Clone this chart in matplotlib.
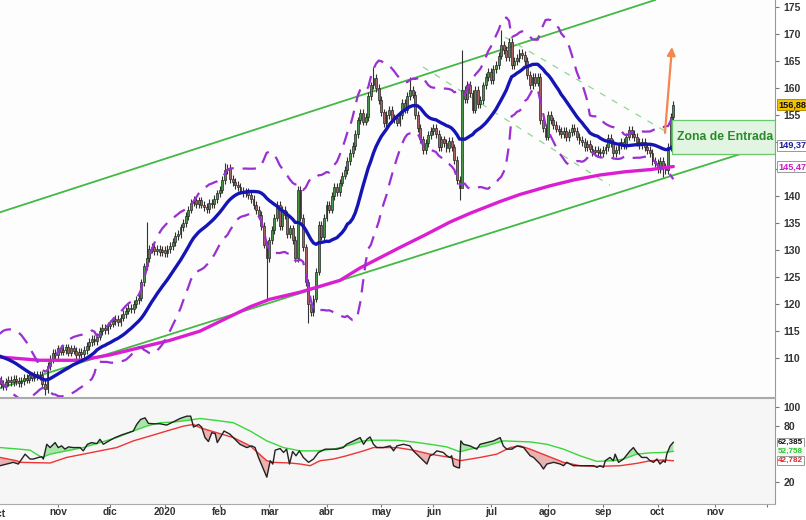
import numpy as np
import pandas as pd
import matplotlib
matplotlib.use("Agg")
import matplotlib.pyplot as plt
from matplotlib.patches import Rectangle
from matplotlib.transforms import blended_transform_factory as btf

plt.rcParams['font.family'] = ['Liberation Sans', 'DejaVu Sans']

# ---------------- data ----------------
holidays = ['2019-11-28', '2019-12-25', '2020-01-01', '2020-01-20', '2020-02-17',
            '2020-04-10', '2020-05-25', '2020-07-03', '2020-09-07', '2020-11-26',
            '2020-12-25']
month_names = ['ene', 'feb', 'mar', 'abr', 'may', 'jun', 'jul', 'ago', 'sep', 'oct', 'nov', 'dic']

# closes before the first visible session (Sep 2019), used for the 20-session average
pre_close = [108.0, 108.6, 109.2, 110.0, 110.5, 111.0, 111.6, 112.0, 112.4, 112.8,
             112.5, 112.9, 112.2, 111.8, 111.2, 110.6, 109.6, 108.6, 107.4]

close = [
    106.0, 105.2, 104.8, 105.6, 106.0, 105.5, 106.2, 105.8, 105.4,        # 0-8
    105.8, 106.3, 106.0, 106.8, 106.4, 107.0, 106.6, 106.9,               # 9-16
    105.2, 104.2, 108.5, 109.8,                                           # 17-20
    111.0, 110.5, 111.8, 111.2,                                           # 21-24
    111.5, 112.0, 111.0, 111.8, 111.4, 110.6, 111.2,                      # 25-31
    110.8, 111.5, 112.2,                                                  # 32-34
    113.0, 113.6, 113.2, 114.0,                                           # 35-38
    115.0, 115.6, 115.2, 116.0, 116.4,                                    # 39-43
    116.8, 117.2, 116.6, 117.5,                                           # 44-47
    118.2, 118.8, 119.3, 119.0,                                           # 48-51
    120.0, 120.8, 121.2,                                                  # 52-54
    124.0, 127.0, 128.5,                                                  # 55-57
    130.2, 130.6,                                                         # 58-59
    129.8, 130.2, 129.6, 130.0, 129.5,                                    # 60-64
    130.2, 130.8, 131.5,                                                  # 65-67
    132.6, 133.0, 134.2,                                                  # 68-70
    135.0, 136.3, 137.5,                                                  # 71-73
    138.8, 139.3, 138.5,                                                  # 74-76
    139.2, 138.4, 138.0,                                                  # 77-79
    137.6, 138.8, 138.5,                                                  # 80-82
    139.5, 140.5, 141.2,                                                  # 83-85
    143.0, 144.8, 145.2,                                                  # 86-88
    143.2, 142.6, 142.0,                                                  # 89-91
    141.7, 141.0, 140.6,                                                  # 92-94
    140.8, 140.2, 139.5,                                                  # 95-97
    138.3, 137.4, 136.5,                                                  # 98-100
    134.5, 131.0, 128.5,                                                  # 101-103
    131.8, 133.7,                                                         # 104-105
    136.0, 138.3, 134.5,                                                  # 106-108
    137.5, 136.5, 133.0,                                                  # 109-111
    134.0, 131.9, 128.5,                                                  # 112-114
    141.1, 136.0,                                                         # 115-116
    130.5, 124.0, 120.0, 118.5,                                           # 117-120
    121.0, 126.0,                                                         # 121-122
    134.6, 132.5, 136.0,                                                  # 123-125
    138.3, 137.5, 140.0,                                                  # 126-128
    141.7, 140.8, 142.5,                                                  # 129-131
    143.8, 144.8, 146.5,                                                  # 132-134
    148.0, 149.3, 151.5,                                                  # 135-137
    154.0, 155.4, 153.8,                                                  # 138-140
    154.6, 158.5, 160.5,                                                  # 141-143
    161.9, 160.0,                                                         # 144-145
    157.8, 155.5, 153.5,                                                  # 146-148
    155.0, 156.0, 154.2,                                                  # 149-151
    154.5, 153.6, 155.0,                                                  # 152-154
    157.2, 156.0, 158.5,                                                  # 155-157
    159.6, 158.8,                                                         # 158-159
    155.0, 152.6,                                                         # 160-161
    150.5, 148.5, 149.8,                                                  # 162-164
    151.3, 152.0, 152.6,                                                  # 165-167
    151.5, 149.1, 150.5,                                                  # 168-170
    149.8, 148.9, 150.2,                                                  # 171-173
    149.0, 146.7,                                                         # 174-175
    143.0, 141.5,                                                         # 176-177
    159.6,                                                                # 178
    158.0, 160.6, 159.0,                                                  # 179-181
    156.0, 159.6, 157.0,                                                  # 182-184
    157.8, 160.5, 162.0,                                                  # 185-187
    163.0, 161.5, 163.5,                                                  # 188-190
    164.3, 166.0, 168.0,                                                  # 191-193
    167.0, 165.7, 168.5,                                                  # 194-196
    164.3, 165.0, 165.6,                                                  # 197-199
    166.5, 166.1, 165.0,                                                  # 200-202
    162.4, 160.5, 162.0,                                                  # 203-205
    161.0, 162.0,                                                         # 206-207
    154.1, 152.6,                                                         # 208-209
    151.0, 155.0, 154.0,                                                  # 210-212
    153.2, 152.5, 152.0,                                                  # 213-215
    151.4, 152.0, 150.9,                                                  # 216-218
    151.8, 152.6, 152.0,                                                  # 219-221
    151.0, 150.4, 150.0,                                                  # 222-224
    149.1, 149.6, 148.8,                                                  # 225-227
    148.2, 148.6, 148.2,                                                  # 228-230
    148.0, 148.5, 149.0,                                                  # 231-233
    150.7, 149.8, 148.0,                                                  # 234-236
    148.5, 149.4, 150.0,                                                  # 237-239
    149.4, 151.0, 152.2,                                                  # 240-242
    151.5, 150.9, 150.0,                                                  # 243-245
    149.4, 150.0, 149.0,                                                  # 246-248
    148.5, 148.0, 146.5,                                                  # 249-251
    146.1, 145.0, 146.5,                                                  # 252-254
    145.4, 144.8,                                                         # 255-256
    149.1, 154.6, 156.88,                                                 # 257-259
]
first_open = 106.5
wick_high = {57: 135.2, 87: 146.1, 144: 163.9, 158: 162.0, 178: 167.0, 193: 170.7, 259: 157.6}
wick_low = {18: 103.2, 103: 120.7, 119: 116.5, 177: 139.3, 178: 150.5, 255: 143.6}

# 200-session average: session index, value
ma200_idx = [0.8, 16.1, 31.5, 43.0, 58.3, 66.0, 77.5, 96.7, 104.3, 115.8, 131.2, 138.9,
             154.2, 163.8, 173.4, 181.0, 192.6, 200.2, 211.7, 221.0, 230.9, 240.5, 250.1, 259.0]
ma200_val = [110.2, 109.6, 109.6, 110.6, 112.4, 113.3, 115.0, 119.5, 120.9, 122.2, 124.4, 126.7,
             130.5, 132.8, 135.2, 136.8, 139.0, 140.3, 141.9, 143.0, 143.9, 144.5, 144.9, 145.47]

# channel lines (session, price)
up_chan = [(0.77, 137.0), (230.9, 173.0)]
lo_chan = [(0.77, 104.45), (298.0, 149.8)]
dash_chan = [[(194.5, 169.4), (261.6, 150.4)],
             [(163.0, 163.9), (234.7, 142.0)]]
zone_low, zone_high, zone_start = 147.8, 154.0, 258.5
arrow_from, arrow_to = (255.8, 151.7), (258.5, 167.6)

last_labels = {'close': 156.88, 'sma': 149.37, 'ma200': 145.47}

# lower indicator
ind_black_idx = [0.8, 3.3, 5.9, 7.8, 10.4, 12.3, 13.6, 15.5, 16.8, 17.4, 18.7, 20.0, 21.9, 23.1,
                 24.4, 25.7, 27.0, 28.9, 31.5, 32.7, 34.3, 35.9, 37.9, 39.1, 40.4, 43.0, 44.9,
                 47.4, 50.0, 51.9, 53.2, 54.7, 56.4, 57.7, 59.6, 62.1, 64.7, 67.3, 69.8, 72.4,
                 73.9, 75.0, 76.9, 78.1, 79.4, 80.7, 82.0, 83.3, 84.1, 85.4, 86.7, 89.0, 90.9,
                 92.8, 95.4, 97.3, 98.6, 99.9, 101.8, 103.1, 104.4, 105.4, 106.3, 108.2, 109.5,
                 110.7, 111.8, 113.0, 114.3, 115.6, 117.1, 119.1, 121.0, 122.9, 125.5,
                 127.3, 129.9, 132.4, 133.7, 136.3, 137.6, 138.9, 140.2, 141.5, 142.7, 144.0,
                 145.3, 147.8, 150.4, 151.7, 153.0, 155.5, 158.0, 159.3, 160.6, 163.2, 164.5,
                 165.7, 167.0, 168.3, 170.8, 172.1, 173.4, 174.0, 174.7, 175.9, 177.0, 177.5,
                 178.5, 181.0, 183.6, 184.9, 187.4, 190.0, 192.6, 193.8, 195.1, 197.1, 199.0,
                 201.6, 204.1, 205.4, 207.9, 209.2, 210.5, 213.1, 215.6, 216.9, 218.1, 220.7,
                 224.6, 228.4, 229.7, 230.9, 232.2, 232.9, 234.7, 236.0, 236.7, 238.0, 239.9,
                 242.4, 243.7, 245.0, 246.9, 248.8, 250.1, 251.4, 252.7, 253.9, 255.2, 255.9,
                 256.5, 257.8, 259.0]
ind_black_val = [37.5, 39.3, 41.1, 39.3, 49.8, 44.6, 44.6, 46.3, 47.0, 44.6, 60.3, 56.8, 62.1, 56.8,
                 58.6, 55.1, 57.5, 56.8, 56.8, 53.3, 60.3, 62.1, 61.0, 65.6, 60.3, 64.6, 67.4,
                 70.2, 72.6, 74.4, 81.4, 86.7, 88.4, 82.5, 82.1, 82.1, 80.7, 84.2, 87.7, 90.2,
                 90.2, 78.6, 81.4, 78.6, 67.4, 63.2, 72.6, 71.6, 62.1, 68.1, 74.4, 70.9, 65.6,
                 60.3, 56.8, 58.6, 56.8, 46.3, 34.0, 25.3, 42.8, 39.3, 54.0, 55.8, 51.6,
                 55.1, 39.3, 52.6, 48.1, 53.3, 46.3, 41.1, 44.6, 51.6, 55.1,
                 55.1, 55.1, 56.8, 60.3, 63.9, 65.6, 67.4, 60.3, 65.6, 68.1, 60.3,
                 56.8, 56.8, 58.6, 53.3, 58.6, 60.3, 58.6, 53.3, 49.8, 42.8, 39.3,
                 48.1, 49.8, 53.3, 51.6, 48.1, 46.3, 48.1, 37.5, 35.8, 35.1, 63.9,
                 60.3, 58.6, 55.1, 60.3, 62.1, 63.9, 67.4, 58.6, 55.1, 55.1, 58.6,
                 56.8, 48.1, 46.3, 39.3, 34.0, 39.3, 41.1, 39.3, 37.5, 41.1, 37.5,
                 37.5, 37.5, 35.8, 37.5, 35.8, 42.8, 46.3, 42.8, 49.8, 41.1, 44.6,
                 53.3, 56.8, 51.6, 46.3, 46.3, 42.8, 41.1, 44.6, 39.3, 42.8, 41.1,
                 49.8, 58.6, 62.385]
ind_green_idx = [0.8, 8.4, 12.3, 16.8, 20.0, 26.3, 32.7, 39.1, 45.5, 51.9, 57.0, 62.1, 67.3,
                 72.4, 77.5, 83.9, 90.3, 96.7, 103.1, 109.5, 115.9, 122.3, 128.6, 133.7, 140.2,
                 144.0, 153.0, 159.3, 165.7, 172.1, 177.2, 181.0, 187.4, 193.8, 204.1, 210.5,
                 216.9, 223.2, 229.7, 236.0, 239.9, 245.0, 250.1, 255.2, 259.0]
ind_green_val = [56.8, 55.1, 54.0, 46.3, 49.8, 53.3, 56.8, 62.1, 67.4, 74.4, 79.6, 83.2, 83.9,
                 85.6, 87.7, 85.6, 83.2, 74.4, 63.9, 56.8, 53.3, 53.3, 55.1, 58.6, 63.9,
                 64.6, 64.6, 62.8, 60.3, 57.5, 52.3, 55.1, 58.6, 63.9, 62.8, 60.3,
                 55.1, 48.1, 42.1, 42.8, 44.6, 49.8, 51.2, 51.6, 52.758]
ind_red_idx = [0.8, 7.2, 8.4, 20.0, 26.3, 32.7, 39.1, 45.5, 51.9, 58.3, 64.7, 71.1, 75.0, 77.5,
               83.9, 90.3, 96.7, 103.1, 105.6, 112.0, 115.9, 119.7, 123.5, 128.6, 133.7, 140.2,
               144.0, 153.0, 159.3, 165.7, 169.5, 173.4, 177.2, 184.9, 191.3, 196.4, 200.2,
               204.1, 210.5, 216.9, 223.2, 229.7, 238.6, 245.0, 250.1, 255.2, 259.0]
ind_red_val = [46.3, 42.8, 41.1, 40.4, 46.3, 49.8, 53.3, 56.8, 63.9, 69.1, 74.4, 79.6, 81.4, 77.9,
               72.6, 67.4, 58.6, 42.8, 41.1, 40.4, 39.3, 37.5, 42.8, 44.6, 48.1, 53.3,
               56.8, 56.8, 54.0, 49.8, 48.1, 46.3, 42.8, 46.3, 49.8, 56.8, 58.6,
               55.1, 48.1, 41.1, 37.5, 36.8, 37.5, 40.0, 42.8, 43.6, 42.782]

assert len(close) == 260, len(close)

# ---------------- derived ----------------
n = len(close)
x = np.arange(n)
c = np.array(close)
o = np.concatenate([[first_open], c[:-1]])
hi = np.maximum(o, c) + 0.7
lo = np.minimum(o, c) - 0.7
for k, v in wick_high.items():
    hi[k] = v
for k, v in wick_low.items():
    lo[k] = v
s = pd.Series(pre_close + close)
sma = s.rolling(20).mean().values[len(pre_close):]
sd = s.rolling(20).std(ddof=0).values[len(pre_close):]

sessions = pd.bdate_range('2019-10-01', periods=310, freq='C', holidays=holidays)
mstart = [k for k in range(1, len(sessions)) if sessions[k].month != sessions[k - 1].month]

W, H = 806, 520
fig = plt.figure(figsize=(W / 100, H / 100), dpi=100)
fig.patch.set_facecolor('white')
ax1 = fig.add_axes([0, 1 - 397 / H, 775 / W, 397 / H])
ax2 = fig.add_axes([0, 16 / H, 775 / W, 106 / H])
XL = (0.77, 298.0)

# ---------------- price panel ----------------
ax1.set_facecolor('#fdfdfd')
up = c >= o
ax1.vlines(x, lo, hi, color='#333333', lw=0.8, zorder=3)
body = np.maximum(np.abs(c - o), 0.2)
ax1.bar(x[up], body[up], bottom=o[up], width=0.72, color='#4a944a', edgecolor='#262626',
        lw=0.5, zorder=3)
ax1.bar(x[~up], body[~up], bottom=c[~up], width=0.72, color='#a86262', edgecolor='#262626',
        lw=0.5, zorder=3)

ax1.axline(up_chan[0], up_chan[1], color='#43b843', lw=1.3, zorder=2)
ax1.axline(lo_chan[0], lo_chan[1], color='#43b843', lw=1.3, zorder=2)
for (p0, p1) in dash_chan:
    ax1.plot([p0[0], p1[0]], [p0[1], p1[1]], color='#8ed88e', lw=0.9,
             ls=(0, (5, 6)), zorder=2)

ax1.plot(ma200_idx, ma200_val, color='#dc1ed2', lw=2.4, zorder=4, solid_capstyle='round')
ax1.plot(x, sma + 2 * sd, color='#9a2fd2', lw=1.6, ls=(0, (6, 4)), zorder=4)
ax1.plot(x, sma - 2 * sd, color='#9a2fd2', lw=1.6, ls=(0, (6, 4)), zorder=4)
ax1.plot(x, sma, color='#1515b5', lw=2.4, zorder=5)

ax1.add_patch(Rectangle((zone_start, zone_low), XL[1] - zone_start, zone_high - zone_low,
                        facecolor='#e2f5e2', edgecolor='#6cc66c', lw=0.9, zorder=6))
ax1.text((zone_start + XL[1]) / 2 + 0.5, (zone_low + zone_high) / 2, 'Zona de Entrada',
         ha='center', va='center', fontsize=8.8, fontweight='bold', color='#2a8a2a', zorder=7)
ax1.annotate('', xy=arrow_to, xytext=arrow_from,
             arrowprops=dict(arrowstyle='-|>', color='#f5874e', lw=1.6, mutation_scale=12,
                             shrinkA=0, shrinkB=0), zorder=7)

ax1.set_xlim(*XL)
ax1.set_ylim(102.8, 176.3)
ax1.yaxis.tick_right()
yt = list(range(110, 176, 5))
ax1.set_yticks(yt, ['' if v in (145, 150) else str(v) for v in yt], fontweight='bold')
ax1.tick_params(axis='y', length=3, width=0.8, color='#777', labelsize=7.5,
                labelcolor='#333', pad=3)
ax1.set_xticks([])
for sp in ['left', 'top']:
    ax1.spines[sp].set_visible(False)
ax1.spines['right'].set_color('#999')
ax1.spines['bottom'].set_color('#aaa')

def tag(ax, y, text, fc, tc, ec, size=6.6):
    ax.annotate(text, xy=(1, y), xycoords=btf(ax.transAxes, ax.transData),
                xytext=(3, 0), textcoords='offset pixels', ha='left', va='center',
                fontsize=size, fontweight='bold', color=tc, zorder=9,
                bbox=dict(boxstyle='square,pad=0.12', fc=fc, ec=ec, lw=0.7),
                annotation_clip=False)

fmt = lambda v, d: f'{v:.{d}f}'.replace('.', ',')
tag(ax1, last_labels['close'], fmt(last_labels['close'], 2), '#f2c300', '#111', '#b58f00')
tag(ax1, last_labels['sma'], fmt(last_labels['sma'], 2), 'white', '#1a1aa8', '#999')
tag(ax1, last_labels['ma200'], fmt(last_labels['ma200'], 2), 'white', '#cc1cc4', '#999')

# ---------------- indicator panel ----------------
ax2.set_facecolor('#f6f6f6')
grid = np.linspace(ind_black_idx[0], ind_black_idx[-1], 4000)
b = np.interp(grid, ind_black_idx, ind_black_val)
g = np.interp(grid, ind_green_idx, ind_green_val)
r = np.interp(grid, ind_red_idx, ind_red_val)
ax2.fill_between(grid, b, g, where=b > g, interpolate=True, color='#8fe08f', alpha=0.75, lw=0)
ax2.fill_between(grid, b, r, where=b < r, interpolate=True, color='#e8a0a0', alpha=0.8, lw=0)
ax2.plot(ind_green_idx, ind_green_val, color='#3ad63a', lw=1.0)
ax2.plot(ind_red_idx, ind_red_val, color='#ee3434', lw=1.0)
ax2.plot(ind_black_idx, ind_black_val, color='#222', lw=1.0)

ax2.set_xlim(*XL)
ax2.set_ylim(-3.2, 109.5)
ax2.yaxis.tick_right()
ax2.set_yticks([20, 80, 100], ['20', '80', '100'], fontweight='bold')
ax2.tick_params(axis='y', length=3, width=0.8, color='#777', labelsize=7.5,
                labelcolor='#333', pad=3)
tag(ax2, 62.385, '62,385', 'white', '#111', '#999', size=5.9)
tag(ax2, 52.758, '52,758', '#f6f6f6', '#2ec82e', '#f6f6f6', size=5.9)
tag(ax2, 42.782, '42,782', 'white', '#e02a2a', '#999', size=5.9)

ticks = [k for k in mstart if XL[0] <= k <= XL[1]]
labels = []
for k in ticks:
    d = sessions[k]
    labels.append(str(d.year) if d.month == 1 else month_names[d.month - 1])
labels = [lab if sessions[k] < pd.Timestamp('2020-12-01') else '' for k, lab in zip(ticks, labels)]
ax2.set_xticks(ticks, labels, fontweight='bold')
ax2.tick_params(axis='x', length=2, width=0.8, color='#777', labelsize=7.3,
                labelcolor='#333', pad=0.5)
ax2.text(0, -0.045, 'oct', transform=btf(ax2.transData, ax2.transAxes), ha='center',
         va='top', fontsize=7.3, fontweight='bold', color='#333', clip_on=False)
ax2.spines['left'].set_visible(False)
ax2.spines['right'].set_color('#999')
ax2.spines['top'].set_color('#aaa')
ax2.spines['bottom'].set_color('#aaa')

fig.savefig('out.png', dpi=100, facecolor='white')
